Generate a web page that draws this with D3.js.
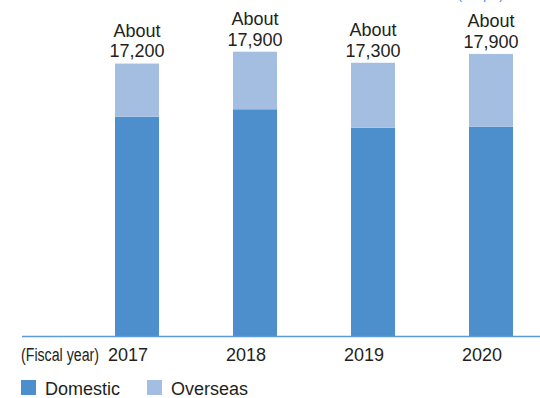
<!DOCTYPE html>
<html>
<head>
<meta charset="utf-8">
<script src="https://cdn.jsdelivr.net/npm/d3@7"></script>
<style>
  body { margin: 0; background: #fff; }
  svg { display: block; font-family: "Liberation Sans", Arial, sans-serif; }
</style>
</head>
<body>
<div id="chart"></div>
<script>
// data
const years = ["2017", "2018", "2019", "2020"];
const domestic = [13870, 14340, 13170, 13240];
const overseas = [3360, 3640, 4110, 4600];
const totalLabels = ["17,200", "17,900", "17,300", "17,900"];

const width = 540, height = 398;
const baseY = 336;
const colors = { domestic: "#4d8fcc", overseas: "#a4bee2" };
const textColor = "#231f20";

const svg = d3.select("#chart")
    .append("svg")
    .attr("width", width)
    .attr("height", height);

const x = d3.scaleBand()
    .domain(years)
    .range([78, 550])
    .paddingInner(0.627)
    .paddingOuter(0.3135);

const y = d3.scaleLinear()
    .domain([0, 21250])
    .range([baseY, 0]);

const rows = years.map((yr, i) => ({
    year: yr,
    domestic: domestic[i],
    overseas: overseas[i],
    label: totalLabels[i]
}));

const stacked = d3.stack().keys(["domestic", "overseas"])(rows);

// bars
svg.append("g")
    .selectAll("g")
    .data(stacked)
    .join("g")
    .attr("fill", d => colors[d.key])
    .selectAll("rect")
    .data(d => d)
    .join("rect")
    .attr("x", d => x(d.data.year))
    .attr("y", d => y(d[1]))
    .attr("width", x.bandwidth())
    .attr("height", d => y(d[0]) - y(d[1]));

// baseline
svg.append("line")
    .attr("x1", 22)
    .attr("x2", width)
    .attr("y1", baseY + 0.5)
    .attr("y2", baseY + 0.5)
    .attr("stroke", "#5b9bd8")
    .attr("stroke-width", 1.5);

// total labels above bars
const labels = svg.append("g")
    .selectAll("text")
    .data(rows)
    .join("text")
    .attr("text-anchor", "middle")
    .attr("fill", textColor)
    .style("font-size", "18px")
    .attr("x", d => x(d.year) + x.bandwidth() / 2)
    .attr("y", d => y(d.domestic + d.overseas) - 26.5);

labels.append("tspan")
    .attr("x", d => x(d.year) + x.bandwidth() / 2)
    .text("About");
labels.append("tspan")
    .attr("x", d => x(d.year) + x.bandwidth() / 2)
    .attr("dy", 20.3)
    .text(d => d.label);

// x axis labels
const xAxis = svg.append("g")
    .attr("transform", `translate(0,${baseY})`)
    .call(d3.axisBottom(x).tickSize(0).tickPadding(12));
xAxis.select(".domain").remove();
xAxis.selectAll("text")
    .attr("dx", -9)
    .attr("fill", textColor)
    .style("font-size", "18px")
    .style("font-family", "Liberation Sans, Arial, sans-serif");

svg.append("text")
    .attr("x", 21)
    .attr("y", 361)
    .attr("fill", textColor)
    .attr("textLength", 78)
    .attr("lengthAdjust", "spacingAndGlyphs")
    .style("font-size", "18px")
    .text("(Fiscal year)");

// unit label, cut off at the top edge
svg.append("text")
    .attr("x", 458)
    .attr("y", -1)
    .attr("fill", "#1e88e5")
    .style("font-size", "12px")
    .text("(People)");

// legend
const legendItems = [
    { key: "domestic", name: "Domestic", x: 21 },
    { key: "overseas", name: "Overseas", x: 147 }
];
const legend = svg.append("g")
    .selectAll("g")
    .data(legendItems)
    .join("g")
    .attr("transform", d => `translate(${d.x},380)`);
legend.append("rect")
    .attr("width", 15)
    .attr("height", 15)
    .attr("fill", d => colors[d.key]);
legend.append("text")
    .attr("x", 24)
    .attr("y", 15)
    .attr("fill", textColor)
    .style("font-size", "18px")
    .text(d => d.name);
</script>
</body>
</html>
